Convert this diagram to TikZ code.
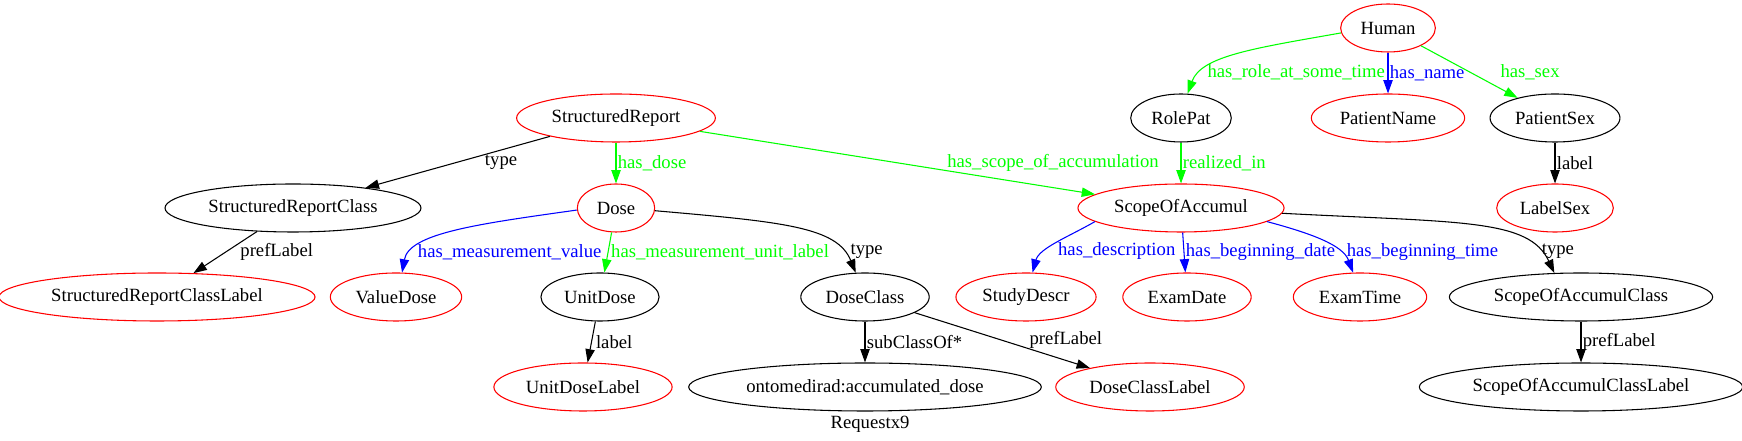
\documentclass[tikz,border=0pt]{standalone}
\usepackage{fontspec}
\setmainfont{Liberation Serif}
\usetikzlibrary{shapes.geometric,arrows.meta}
\colorlet{objprop}{green}
\colorlet{dataprop}{blue}
\colorlet{indiv}{red}
\newcommand{\gvfont}{\fontsize{14}{16}\selectfont}

\begin{document}
\begin{tikzpicture}[
    x=0.75pt, y=0.75pt,
    cls/.style={ellipse,draw,line width=0.8pt,font=\gvfont,%
                minimum width=58pt,minimum height=36pt,%
                inner xsep=4.5pt,inner ysep=2pt},
    ind/.style={cls,draw=indiv},
    rel/.style={line width=0.8pt,-{Triangle[length=10pt,width=7pt]}},
    objrel/.style={rel,color=objprop},
    datarel/.style={rel,color=dataprop},
    lbl/.style={font=\gvfont,anchor=west,inner sep=1pt}
]
\useasboundingbox (0,0) rectangle (1742,441);

\node[ind] (Human) at (1388,413) {Human};

\node[ind] (StructuredReport) at (616,323) {StructuredReport};
\node[cls] (RolePat) at (1181,323) {RolePat};
\node[ind] (PatientName) at (1388,323) {PatientName};
\node[cls] (PatientSex) at (1555,323) {PatientSex};

\node[cls] (StructuredReportClass) at (293,233) {StructuredReportClass};
\node[ind] (Dose) at (616,233) {Dose};
\node[ind] (ScopeOfAccumul) at (1181,233) {ScopeOfAccumul};
\node[ind] (LabelSex) at (1555,233) {LabelSex};

\node[ind] (StructuredReportClassLabel) at (157,144) {StructuredReportClassLabel};
\node[ind] (ValueDose) at (396,144) {ValueDose};
\node[cls] (UnitDose) at (600,144) {UnitDose};
\node[cls] (DoseClass) at (865,144) {DoseClass};
\node[ind] (StudyDescr) at (1026,144) {StudyDescr};
\node[ind] (ExamDate) at (1187,144) {ExamDate};
\node[ind] (ExamTime) at (1360,144) {ExamTime};
\node[cls] (ScopeOfAccumulClass) at (1581,144) {ScopeOfAccumulClass};

\node[ind] (UnitDoseLabel) at (583,54) {UnitDoseLabel};
\node[cls] (accumulated) at (865,54) {ontomedirad:accumulated\_dose};
\node[ind] (DoseClassLabel) at (1150,54) {DoseClassLabel};
\node[cls] (ScopeOfAccumulClassLabel) at (1581,54) {ScopeOfAccumulClassLabel};

\node[font=\gvfont] (caption) at (870,17) {Requestx9};

\draw[rel] (StructuredReport) -- node[lbl,xshift=19pt] {type} (StructuredReportClass);
\draw[rel] (StructuredReportClass) -- node[lbl,xshift=10pt] {prefLabel} (StructuredReportClassLabel);
\draw[objrel] (StructuredReport) -- node[lbl] {has\_dose} (Dose);
\draw[objrel] (StructuredReport) -- node[lbl,xshift=36pt] {has\_scope\_of\_accumulation} (ScopeOfAccumul);
\draw[datarel] (Dose.183) to[out=188,in=80,out distance=75pt,in distance=30pt]
    node[lbl,pos=0.8,xshift=2pt] {has\_measurement\_value} (ValueDose.76);
\draw[objrel] (Dose) -- node[lbl,xshift=1pt] {has\_measurement\_unit\_label} (UnitDose);
\draw[rel] (Dose.356) to[out=-5,in=112,out distance=97pt,in distance=37pt]
    node[lbl,pos=0.82,xshift=5pt] {type} (DoseClass.111);
\draw[rel] (UnitDose) -- node[lbl,xshift=2pt] {label} (UnitDoseLabel);
\draw[rel] (DoseClass) -- node[lbl] {subClassOf*} (accumulated);
\draw[rel] (DoseClass) -- node[lbl,xshift=19pt] {prefLabel} (DoseClassLabel);
\draw[objrel] (Human.186) to[out=190,in=70,out distance=67pt,in distance=30pt]
    node[lbl,pos=0.77,xshift=2pt] {has\_role\_at\_some\_time} (RolePat.75);
\draw[datarel] (Human) -- node[lbl] {has\_name} (PatientName);
\draw[objrel] (Human) -- node[lbl,xshift=22pt] {has\_sex} (PatientSex);
\draw[objrel] (RolePat) -- node[lbl] {realized\_in} (ScopeOfAccumul);
\draw[rel] (PatientSex) -- node[lbl] {label} (LabelSex);
\draw[datarel] (ScopeOfAccumul.189) to[out=210,in=75,out distance=22pt,in distance=19pt]
    node[lbl,pos=0.65,xshift=7pt] {has\_description} (StudyDescr.75);
\draw[datarel] (ScopeOfAccumul) -- node[lbl] {has\_beginning\_date} (ExamDate);
\draw[datarel] (ScopeOfAccumul.351) to[out=-15,in=110,out distance=34pt,in distance=22pt]
    node[lbl,pos=0.7,xshift=5pt] {has\_beginning\_time} (ExamTime.106);
\draw[rel] (ScopeOfAccumul.357) to[out=-3,in=115,out distance=135pt,in distance=45pt]
    node[lbl,pos=0.84,xshift=1pt] {type} (ScopeOfAccumulClass.138);
\draw[rel] (ScopeOfAccumulClass) -- node[lbl] {prefLabel} (ScopeOfAccumulClassLabel);
\end{tikzpicture}
\end{document}
